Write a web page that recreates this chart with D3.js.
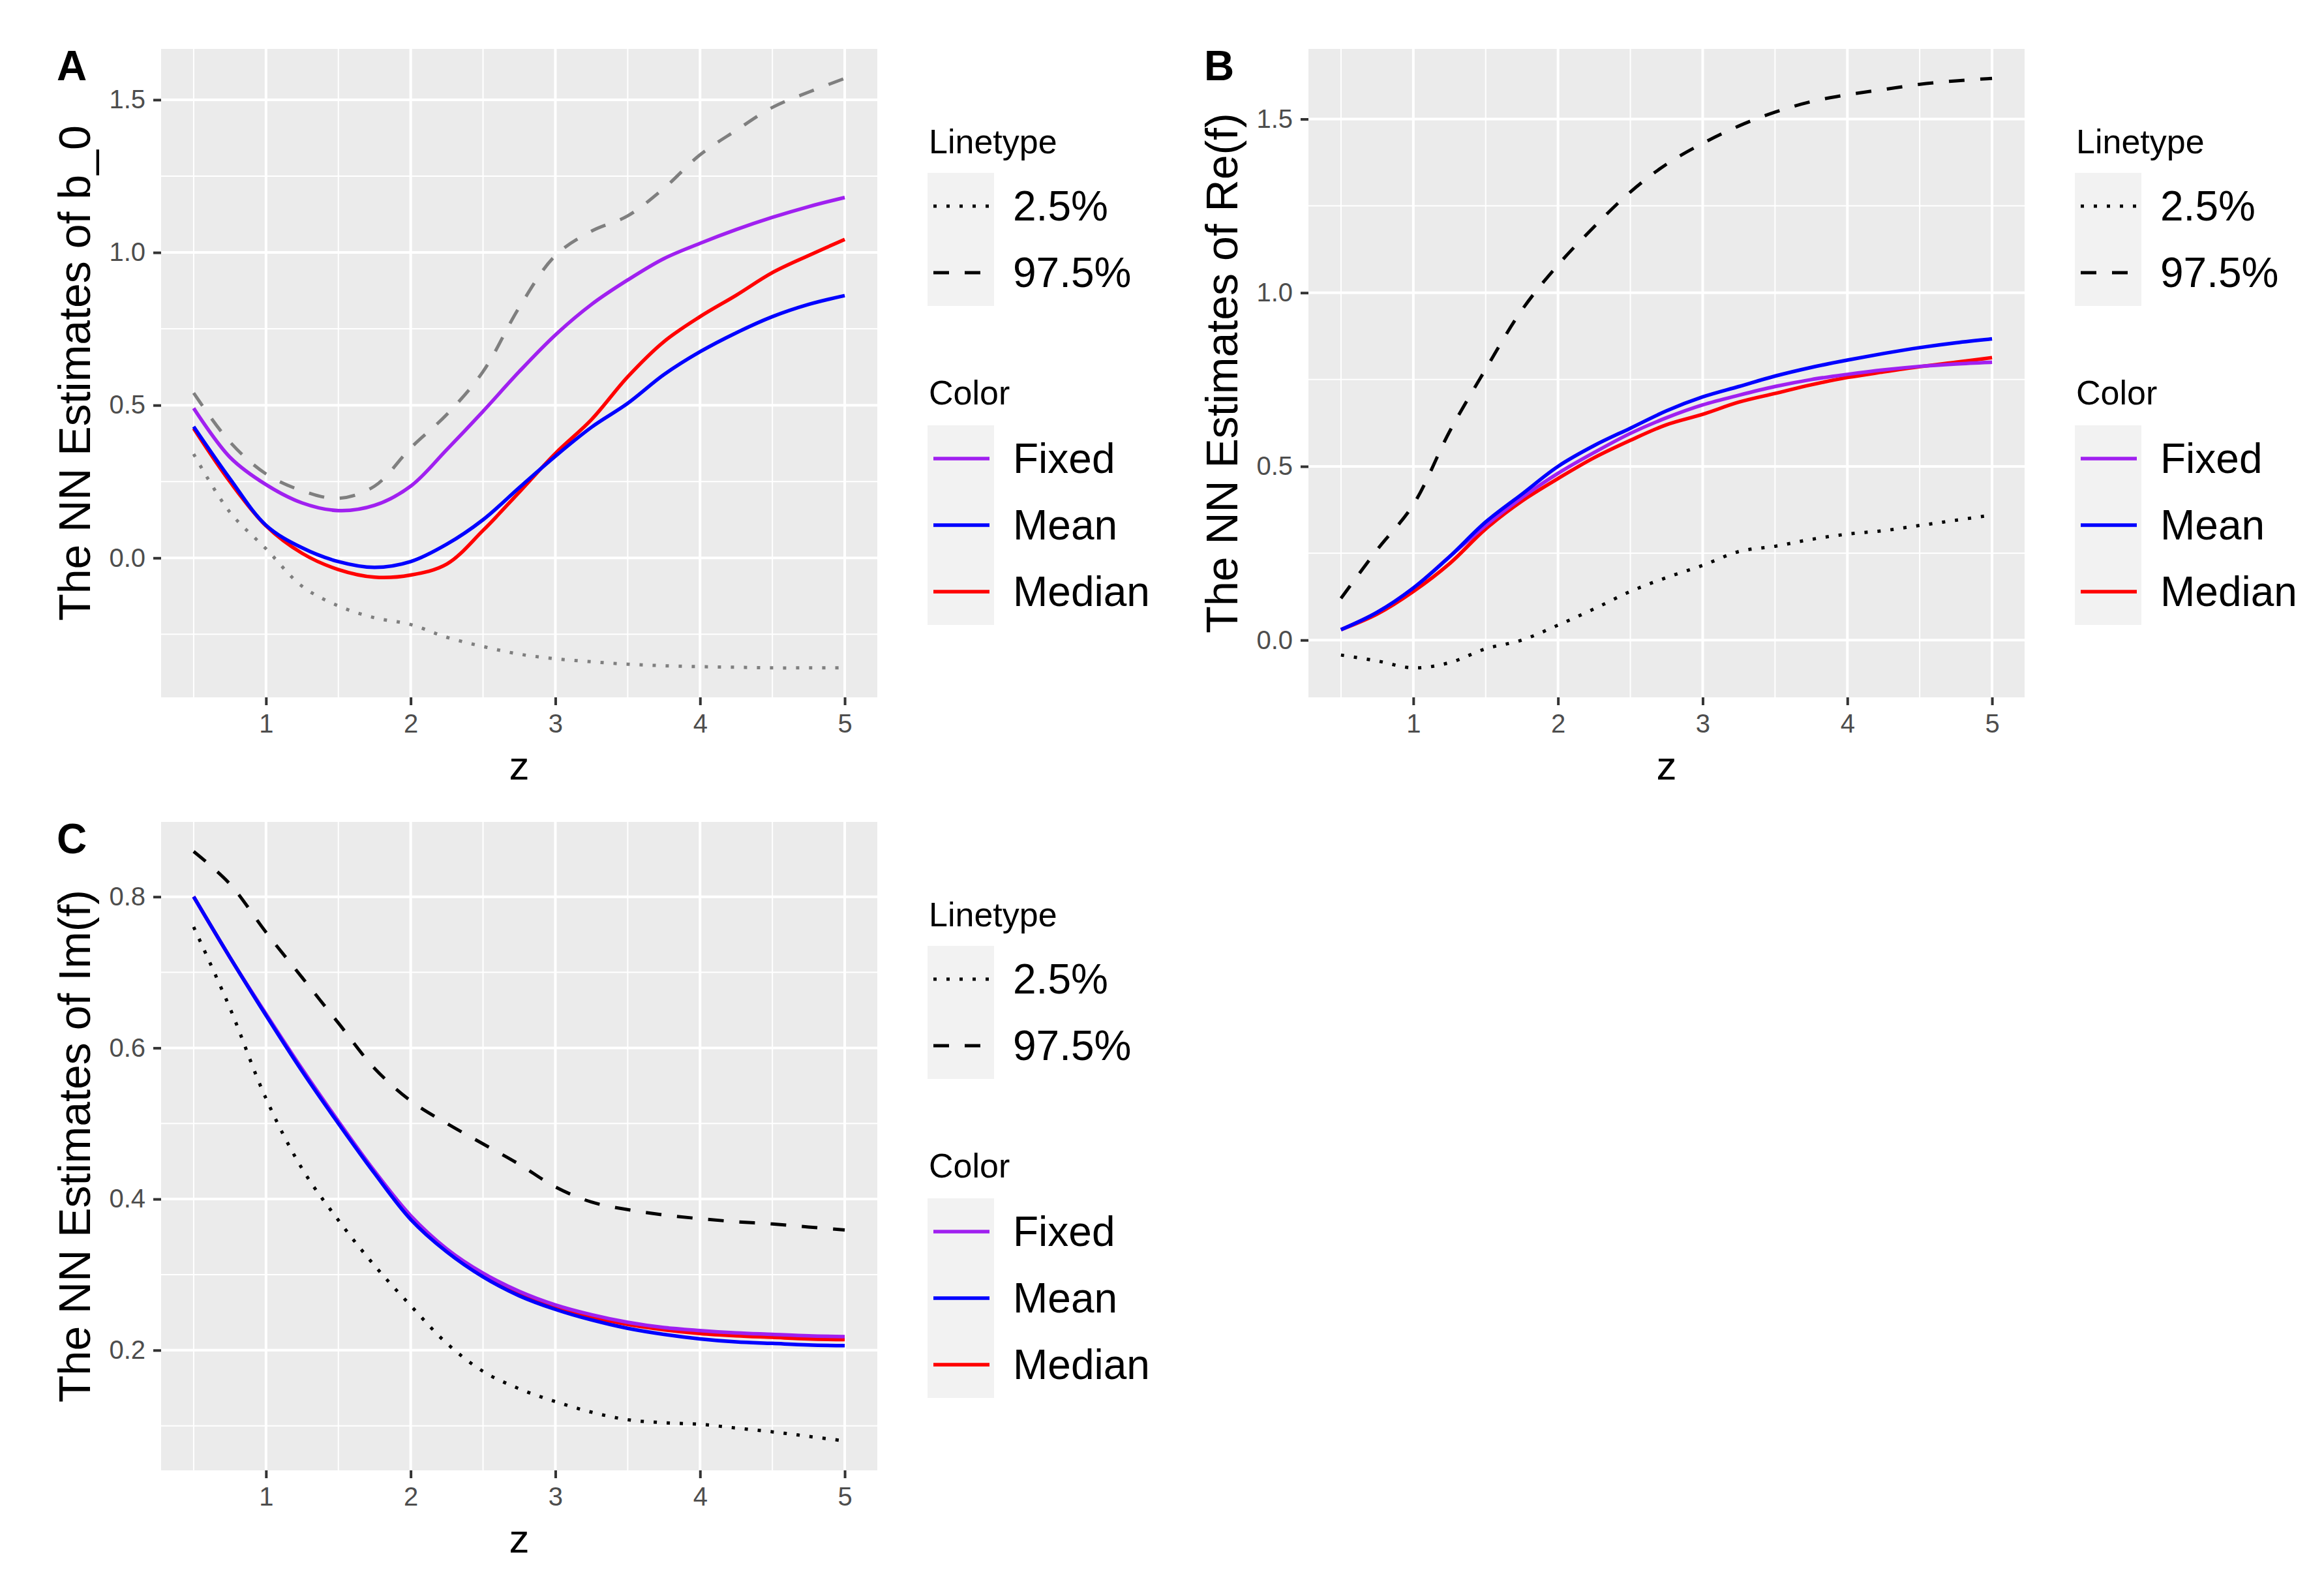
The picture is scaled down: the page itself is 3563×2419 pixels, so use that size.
<!DOCTYPE html>
<html>
<head>
<meta charset="utf-8">
<script src="https://cdn.jsdelivr.net/npm/d3@7"></script>
<style>
  body { margin: 0; background: #fff; }
  text { font-family: "Liberation Sans", Arial, Helvetica, sans-serif; }
</style>
</head>
<body>
<div class="canvas"></div>
<script>
// z grid the estimates were read at
var zVals = [0.5, 0.75, 1, 1.25, 1.5, 1.75, 2, 2.25, 2.5, 2.75, 3, 3.25, 3.5, 3.75, 4, 4.25, 4.5, 4.75, 5];

// panel A : b_0
var aFixed  = [0.49, 0.33, 0.24, 0.18, 0.155, 0.172, 0.235, 0.355, 0.48, 0.61, 0.73, 0.83, 0.91, 0.98, 1.03, 1.075, 1.115, 1.15, 1.18];
var aMean   = [0.43, 0.26, 0.107, 0.033, -0.012, -0.031, -0.012, 0.045, 0.125, 0.23, 0.333, 0.428, 0.506, 0.60, 0.675, 0.737, 0.79, 0.83, 0.859];
var aMedian = [0.424, 0.25, 0.105, 0.015, -0.038, -0.063, -0.056, -0.02, 0.09, 0.215, 0.342, 0.453, 0.593, 0.708, 0.79, 0.86, 0.934, 0.99, 1.043];
var aLow    = [0.34, 0.15, 0.03, -0.093, -0.157, -0.196, -0.218, -0.26, -0.29, -0.315, -0.33, -0.34, -0.348, -0.353, -0.356, -0.358, -0.36, -0.36, -0.36];
var aHigh   = [0.54, 0.38, 0.275, 0.22, 0.195, 0.235, 0.36, 0.47, 0.61, 0.82, 0.99, 1.07, 1.12, 1.21, 1.32, 1.40, 1.475, 1.525, 1.57];

// panel B : Re(f)
var bFixed  = [0.03, 0.08, 0.15, 0.24, 0.33, 0.41, 0.48, 0.54, 0.595, 0.64, 0.677, 0.705, 0.73, 0.75, 0.765, 0.778, 0.788, 0.795, 0.80];
var bMean   = [0.03, 0.08, 0.15, 0.24, 0.34, 0.42, 0.50, 0.56, 0.61, 0.66, 0.70, 0.73, 0.76, 0.785, 0.806, 0.825, 0.842, 0.856, 0.867];
var bMedian = [0.03, 0.075, 0.14, 0.22, 0.32, 0.40, 0.465, 0.525, 0.575, 0.62, 0.65, 0.685, 0.71, 0.735, 0.756, 0.772, 0.787, 0.80, 0.813];
var bLow    = [-0.043, -0.06, -0.08, -0.065, -0.025, 0.0, 0.043, 0.09, 0.14, 0.18, 0.215, 0.255, 0.27, 0.29, 0.305, 0.315, 0.33, 0.345, 0.36];
var bHigh   = [0.12, 0.26, 0.39, 0.60, 0.78, 0.95, 1.08, 1.19, 1.29, 1.37, 1.43, 1.48, 1.52, 1.55, 1.57, 1.585, 1.60, 1.61, 1.617];

// panel C : Im(f)
var cFixed  = [0.80, 0.72, 0.645, 0.572, 0.503, 0.437, 0.378, 0.334, 0.302, 0.278, 0.260, 0.247, 0.237, 0.230, 0.226, 0.223, 0.221, 0.219, 0.218];
var cMean   = [0.80, 0.72, 0.643, 0.569, 0.500, 0.434, 0.373, 0.330, 0.297, 0.272, 0.254, 0.240, 0.229, 0.221, 0.215, 0.211, 0.209, 0.207, 0.206];
var cMedian = [0.80, 0.72, 0.644, 0.571, 0.502, 0.436, 0.376, 0.333, 0.300, 0.276, 0.257, 0.244, 0.234, 0.227, 0.222, 0.219, 0.217, 0.215, 0.214];
var cLow    = [0.76, 0.653, 0.533, 0.44, 0.372, 0.312, 0.259, 0.209, 0.172, 0.149, 0.132, 0.118, 0.108, 0.104, 0.102, 0.097, 0.092, 0.086, 0.08];
var cHigh   = [0.86, 0.817, 0.753, 0.693, 0.633, 0.573, 0.53, 0.50, 0.473, 0.446, 0.416, 0.396, 0.386, 0.379, 0.374, 0.37, 0.367, 0.363, 0.359];

var xTicks = [1, 2, 3, 4, 5];
var xMinor = [0.5, 1.5, 2.5, 3.5, 4.5];
var aYTicks = [0, 0.5, 1.0, 1.5], aYMinor = [-0.25, 0.25, 0.75, 1.25];
var bYTicks = [0, 0.5, 1.0, 1.5], bYMinor = [0.25, 0.75, 1.25];
var cYTicks = [0.2, 0.4, 0.6, 0.8], cYMinor = [0.1, 0.3, 0.5, 0.7];

var colorNames = ["Fixed", "Mean", "Median"];
var colorValues = ["#A020F0", "#0000FF", "#FF0000"];
var drawOrder = [2, 0, 1]; // Median under, then Fixed, Mean on top
var lineNames = ["2.5%", "97.5%"];
var lineDash = ["5,15", "24,24"];

var W = 1098, H = 994;

var svg = d3.select(".canvas")
  .append("svg")
  .attr("width", 3563)
  .attr("height", 2419)
  .style("display", "block")
  .style("background", "#fff");

var panels = [
  {label: "A", title: "The NN Estimates of b_0", left: 247, top: 75,
   series: [aFixed, aMean, aMedian], low: aLow, high: aHigh, yTicks: aYTicks, yMinor: aYMinor, ci: "#7f7f7f"},
  {label: "B", title: "The NN Estimates of Re(f)", left: 2006, top: 75,
   series: [bFixed, bMean, bMedian], low: bLow, high: bHigh, yTicks: bYTicks, yMinor: bYMinor, ci: "#000"},
  {label: "C", title: "The NN Estimates of Im(f)", left: 247, top: 1260,
   series: [cFixed, cMean, cMedian], low: cLow, high: cHigh, yTicks: cYTicks, yMinor: cYMinor, ci: "#000"}
];

function expand(ext) {
  var d = (ext[1] - ext[0]) * 0.05;
  return [ext[0] - d, ext[1] + d];
}

panels.forEach(function(p) {
  var g = svg.append("g").attr("transform", "translate(" + p.left + "," + p.top + ")");
  var all = p.series[0].concat(p.series[1], p.series[2], p.low, p.high);

  var x = d3.scaleLinear().domain(expand(d3.extent(zVals))).range([0, W]);
  var y = d3.scaleLinear().domain(expand(d3.extent(all))).range([H, 0]);

  g.append("rect").attr("width", W).attr("height", H).attr("fill", "#ebebeb");

  // grid
  g.selectAll(".xminor").data(xMinor).enter().append("line")
    .attr("x1", function(d){ return x(d); }).attr("x2", function(d){ return x(d); })
    .attr("y1", 0).attr("y2", H).attr("stroke", "#fff").attr("stroke-width", 2);
  g.selectAll(".yminor").data(p.yMinor).enter().append("line")
    .attr("y1", function(d){ return y(d); }).attr("y2", function(d){ return y(d); })
    .attr("x1", 0).attr("x2", W).attr("stroke", "#fff").attr("stroke-width", 2);
  g.selectAll(".xmajor").data(xTicks).enter().append("line")
    .attr("x1", function(d){ return x(d); }).attr("x2", function(d){ return x(d); })
    .attr("y1", 0).attr("y2", H).attr("stroke", "#fff").attr("stroke-width", 4);
  g.selectAll(".ymajor").data(p.yTicks).enter().append("line")
    .attr("y1", function(d){ return y(d); }).attr("y2", function(d){ return y(d); })
    .attr("x1", 0).attr("x2", W).attr("stroke", "#fff").attr("stroke-width", 4);

  var line = d3.line()
    .x(function(d, i){ return x(zVals[i]); })
    .y(function(d){ return y(d); })
    .curve(d3.curveCatmullRom);

  [p.low, p.high].forEach(function(s, i) {
    g.append("path").attr("d", line(s)).attr("fill", "none")
      .attr("stroke", p.ci).attr("stroke-width", 5)
      .attr("stroke-dasharray", lineDash[i]);
  });
  drawOrder.forEach(function(i) {
    g.append("path").attr("d", line(p.series[i])).attr("fill", "none")
      .attr("stroke", colorValues[i]).attr("stroke-width", 5.5);
  });

  // axes
  var ya = g.append("g").call(d3.axisLeft(y).tickValues(p.yTicks)
    .tickSize(12).tickPadding(12).tickFormat(d3.format(".1f")));
  var xa = g.append("g").attr("transform", "translate(0," + H + ")")
    .call(d3.axisBottom(x).tickValues(xTicks).tickSize(12).tickPadding(14).tickFormat(d3.format("d")));
  [ya, xa].forEach(function(a) {
    a.select(".domain").remove();
    a.selectAll("line").attr("stroke", "#333").attr("stroke-width", 4);
    a.selectAll("text").attr("fill", "#4d4d4d").style("font-size", "40px")
      .style("font-family", "'Liberation Sans', Arial, sans-serif");
  });

  g.append("text").attr("x", W / 2).attr("y", H + 126)
    .attr("text-anchor", "middle").style("font-size", "62px").text("z");

  g.append("text")
    .attr("transform", "translate(-109," + (H / 2) + ") rotate(-90)")
    .attr("text-anchor", "middle").style("font-size", "68px").text(p.title);

  g.append("text").attr("x", -160).attr("y", 48)
    .style("font-size", "64px").style("font-weight", "bold").text(p.label);

  // legends
  var lg = g.append("g").attr("transform", "translate(" + (W + 77) + ",0)");
  lg.append("text").attr("x", 2).attr("y", 142).attr("dy", "0.35em")
    .style("font-size", "52px").text("Linetype");
  lg.append("rect").attr("y", 190).attr("width", 102).attr("height", 204).attr("fill", "#f2f2f2");
  lineNames.forEach(function(n, i) {
    var cy = 241 + 102 * i;
    lg.append("line").attr("x1", 9).attr("x2", 95).attr("y1", cy).attr("y2", cy)
      .attr("stroke", "#000").attr("stroke-width", 5).attr("stroke-dasharray", lineDash[i]);
    lg.append("text").attr("x", 131).attr("y", cy).attr("dy", "0.35em")
      .style("font-size", "64px").text(n);
  });

  lg.append("text").attr("x", 2).attr("y", 527).attr("dy", "0.35em")
    .style("font-size", "52px").text("Color");
  lg.append("rect").attr("y", 577).attr("width", 102).attr("height", 306).attr("fill", "#f2f2f2");
  colorNames.forEach(function(n, i) {
    var cy = 628 + 102 * i;
    lg.append("line").attr("x1", 9).attr("x2", 95).attr("y1", cy).attr("y2", cy)
      .attr("stroke", colorValues[i]).attr("stroke-width", 5.5);
    lg.append("text").attr("x", 131).attr("y", cy).attr("dy", "0.35em")
      .style("font-size", "64px").text(n);
  });
});
</script>
</body>
</html>
